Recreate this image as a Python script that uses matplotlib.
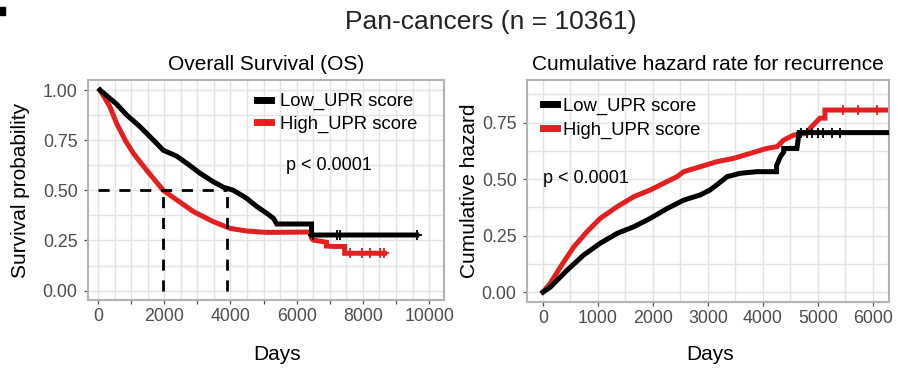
import matplotlib
matplotlib.use('Agg')

import matplotlib.pyplot as plt
import numpy as np
from matplotlib.lines import Line2D
from matplotlib.patches import Rectangle

plt.rcParams['font.family'] = ['Liberation Sans', 'DejaVu Sans']

RED = '#E41F1F'
TICK_GREY = '#4D4D4D'
GRID_GREY = '#E3E3E3'
BORDER_GREY = '#B3B3B3'

# Overall survival, Kaplan-Meier curves (days, survival probability)
os_low_days = [60, 560, 870, 1270, 1770, 1970, 2380, 2680, 3080, 3480, 3790, 4090,
               4490, 4790, 5100, 5300, 5400, 6450, 6450, 9630]
os_low_surv = [1.0, 0.93, 0.875, 0.817, 0.734, 0.70, 0.67, 0.635, 0.585, 0.543, 0.515, 0.50,
               0.46, 0.42, 0.385, 0.36, 0.332, 0.332, 0.277, 0.277]
os_high_days = [60, 360, 560, 820, 1070, 1470, 1970, 2380, 2880, 3480, 3990, 4490,
                5100, 6400, 6450, 6500, 6900, 6900, 7100, 7450, 7450, 8650]
os_high_surv = [1.0, 0.917, 0.834, 0.75, 0.684, 0.60, 0.50, 0.452, 0.394, 0.344, 0.31, 0.297,
                0.29, 0.292, 0.262, 0.252, 0.241, 0.222, 0.22, 0.22, 0.186, 0.186]
os_low_censor = [6480, 7210, 7310, 9630]
os_high_censor = [7610, 7970, 8220, 8520, 8650]
os_medians = [1960, 3900]  # High, Low

# Cumulative hazard for recurrence (days, cumulative hazard)
ch_low_days = [0, 130, 440, 740, 1040, 1350, 1650, 1950, 2260, 2560, 2860, 3040, 3160,
               3350, 3590, 3890, 4250, 4250, 4320, 4380, 4380, 4620, 4640, 4660, 6300]
ch_low_haz = [0.0, 0.021, 0.097, 0.164, 0.216, 0.26, 0.289, 0.326, 0.37, 0.407, 0.43, 0.452, 0.474,
              0.511, 0.526, 0.533, 0.533, 0.56, 0.60, 0.62, 0.636, 0.636, 0.67, 0.706, 0.706]
ch_high_days = [0, 130, 320, 560, 800, 1040, 1350, 1650, 1950, 2190, 2440, 2560, 2860,
                3160, 3470, 3770, 4070, 4260, 4380, 4560, 4800, 4860, 4920, 5040, 5130, 5130, 6300]
ch_high_haz = [0.0, 0.038, 0.112, 0.20, 0.267, 0.326, 0.378, 0.422, 0.452, 0.481, 0.511, 0.533, 0.555,
               0.577, 0.592, 0.614, 0.636, 0.644, 0.673, 0.695, 0.703, 0.725, 0.74, 0.77, 0.77, 0.806, 0.806]
ch_low_censor = [4700, 4800, 4900, 5000, 5100, 5250, 5400]
ch_high_censor = [5460, 5740, 6080]

legend_labels = ['Low_UPR score', 'High_UPR score']


def style_axes(ax, xgrid, ygrid, yticks, xticks, xlabels):
    ax.set_facecolor('white')
    for v in xgrid:
        ax.axvline(v, color=GRID_GREY, lw=1.0, zorder=0)
    for v in ygrid:
        ax.axhline(v, color=GRID_GREY, lw=1.0, zorder=0)
    ax.set_xticks(xticks)
    ax.set_xticklabels(xlabels)
    ax.set_yticks(yticks)
    ax.set_yticklabels(['%.2f' % t for t in yticks])
    ax.tick_params(colors=TICK_GREY, labelsize=12.8, length=3, width=0.9, pad=3,
                   labelcolor=TICK_GREY)
    ax.tick_params(axis='y', pad=4.5)
    for s in ax.spines.values():
        s.set_color(BORDER_GREY)
        s.set_linewidth(1.5)


fig = plt.figure(figsize=(8.98, 3.69), dpi=100)
fig.patches.append(Rectangle((0, 354 / 369), 5 / 898, 8 / 369, transform=fig.transFigure,
                             color='black', figure=fig))

fig.text(491 / 898, 1 - 22 / 369, 'Pan-cancers (n = 10361)', ha='center', va='center',
         fontsize=19, color='#222222')

# ---- left: overall survival
ax1 = fig.add_axes([88 / 898, 69 / 369, 356 / 898, 220 / 369])
ax1.set_xlim(-302, 10450)
ax1.set_ylim(-0.047, 1.05)
style_axes(ax1, np.arange(0, 10500, 500), np.arange(0, 1.01, 0.125),
           [0, 0.25, 0.5, 0.75, 1.0], np.arange(0, 10001, 1000),
           [str(v) if v % 2000 == 0 else '' for v in range(0, 10001, 1000)])

ax1.plot(os_low_days, os_low_surv, color='black', lw=3.6, solid_joinstyle='miter', zorder=3)
ax1.plot(os_high_days, os_high_surv, color=RED, lw=3.6, solid_joinstyle='miter', zorder=2)
ax1.plot(os_low_censor, np.interp(os_low_censor, os_low_days, os_low_surv), '+',
         color='black', ms=7, mew=1.3, zorder=3)
ax1.plot(os_high_censor, np.interp(os_high_censor, os_high_days, os_high_surv), '+',
         color=RED, ms=7, mew=1.3, zorder=2)

ax1.plot([0, max(os_medians)], [0.5, 0.5], color='black', lw=2, dashes=(4, 3.5), zorder=4)
for m in os_medians:
    ax1.plot([m, m], [0, 0.5], color='black', lw=2, dashes=(4, 3.5), zorder=4)

ax1.text(0.555, 0.61, 'p < 0.0001', transform=ax1.transAxes, fontsize=13, ha='left', va='center')
ax1.set_title('Overall Survival (OS)', fontsize=15, pad=7)
ax1.set_ylabel('Survival probability', fontsize=15, labelpad=9)
ax1.set_xlabel('Days', fontsize=15)
ax1.xaxis.set_label_coords(0.53, -0.205)

h1 = [Line2D([], [], color='black', lw=5), Line2D([], [], color=RED, lw=5)]
ax1.legend(h1, legend_labels, loc='upper left', bbox_to_anchor=(0.475, 0.94), frameon=False,
           fontsize=13.3, handlelength=0.75, handletextpad=0.5, labelspacing=0.27,
           borderpad=0, borderaxespad=0)

# ---- right: cumulative hazard for recurrence
ax2 = fig.add_axes([527 / 898, 67 / 369, 362 / 898, 222 / 369])
ax2.set_xlim(-291, 6296)
ax2.set_ylim(-0.044, 0.939)
style_axes(ax2, np.arange(0, 6300, 500), np.arange(0, 0.94, 0.125),
           [0, 0.25, 0.5, 0.75], np.arange(0, 6001, 1000),
           [str(v) for v in range(0, 6001, 1000)])

ax2.plot(ch_high_days, ch_high_haz, color=RED, lw=3.6, solid_joinstyle='miter', zorder=2)
ax2.plot(ch_low_days, ch_low_haz, color='black', lw=3.6, solid_joinstyle='miter', zorder=3)
ax2.plot(ch_low_censor, np.interp(ch_low_censor, ch_low_days, ch_low_haz), '+',
         color='black', ms=7, mew=1.3, zorder=3)
ax2.plot(ch_high_censor, np.interp(ch_high_censor, ch_high_days, ch_high_haz), '+',
         color=RED, ms=7, mew=1.3, zorder=2)

ax2.text(0.045, 0.555, 'p < 0.0001', transform=ax2.transAxes, fontsize=13, ha='left', va='center')
ax2.set_title('Cumulative hazard rate for recurrence', fontsize=15, pad=7)
ax2.set_ylabel('Cumulative hazard', fontsize=15, labelpad=2)
ax2.set_xlabel('Days', fontsize=15)
ax2.xaxis.set_label_coords(0.505, -0.195)

h2 = [Line2D([], [], color='black', lw=5, marker='+', ms=5, mew=1.2),
      Line2D([], [], color=RED, lw=5, marker='+', ms=5, mew=1.2)]
ax2.legend(h2, legend_labels, loc='upper left', bbox_to_anchor=(0.045, 0.92), frameon=False,
           fontsize=13.3, handlelength=0.75, handletextpad=0.3, labelspacing=0.37,
           borderpad=0, borderaxespad=0)

fig.savefig('out.png', dpi=100, facecolor='white')
